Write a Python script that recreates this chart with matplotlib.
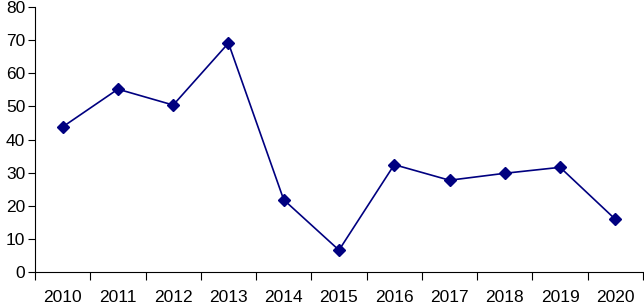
import numpy as np
import matplotlib.pyplot as plt

years = ["2010", "2011", "2012", "2013", "2014", "2015",
         "2016", "2017", "2018", "2019", "2020"]
values = [43.8, 55.2, 50.4, 69.1, 21.8, 6.6, 32.4, 27.7, 29.8, 31.6, 15.9]

plt.rcParams['font.family'] = ['Liberation Sans', 'DejaVu Sans']

fig = plt.figure(figsize=(6.44, 3.06), dpi=100)
ax = fig.add_axes([35 / 644, 1 - 272 / 306, 608 / 644, 265 / 306])

x = np.arange(len(years))
ax.plot(x, values, color="#000080", linewidth=1.2, marker="D",
        markersize=6, markerfacecolor="#000080", markeredgecolor="#000080")

ax.set_xlim(-0.5, len(years) - 0.5)
ax.set_ylim(0, 80)
ax.set_yticks(np.arange(0, 81, 10))

ax.set_xticks(np.arange(-0.5, len(years), 1))
ax.set_xticklabels([])
ax.set_xticks(x, minor=True)
ax.set_xticklabels(years, minor=True)
ax.tick_params(axis="x", which="major", length=6, width=0.8, direction="out")
ax.tick_params(axis="x", which="minor", length=0, pad=13, labelsize=12.5)
ax.tick_params(axis="y", length=5, width=0.8, pad=2, labelsize=12.5)

for s in ["top", "right"]:
    ax.spines[s].set_visible(False)
for s in ["left", "bottom"]:
    ax.spines[s].set_linewidth(0.8)

fig.savefig("out.png", dpi=100)
